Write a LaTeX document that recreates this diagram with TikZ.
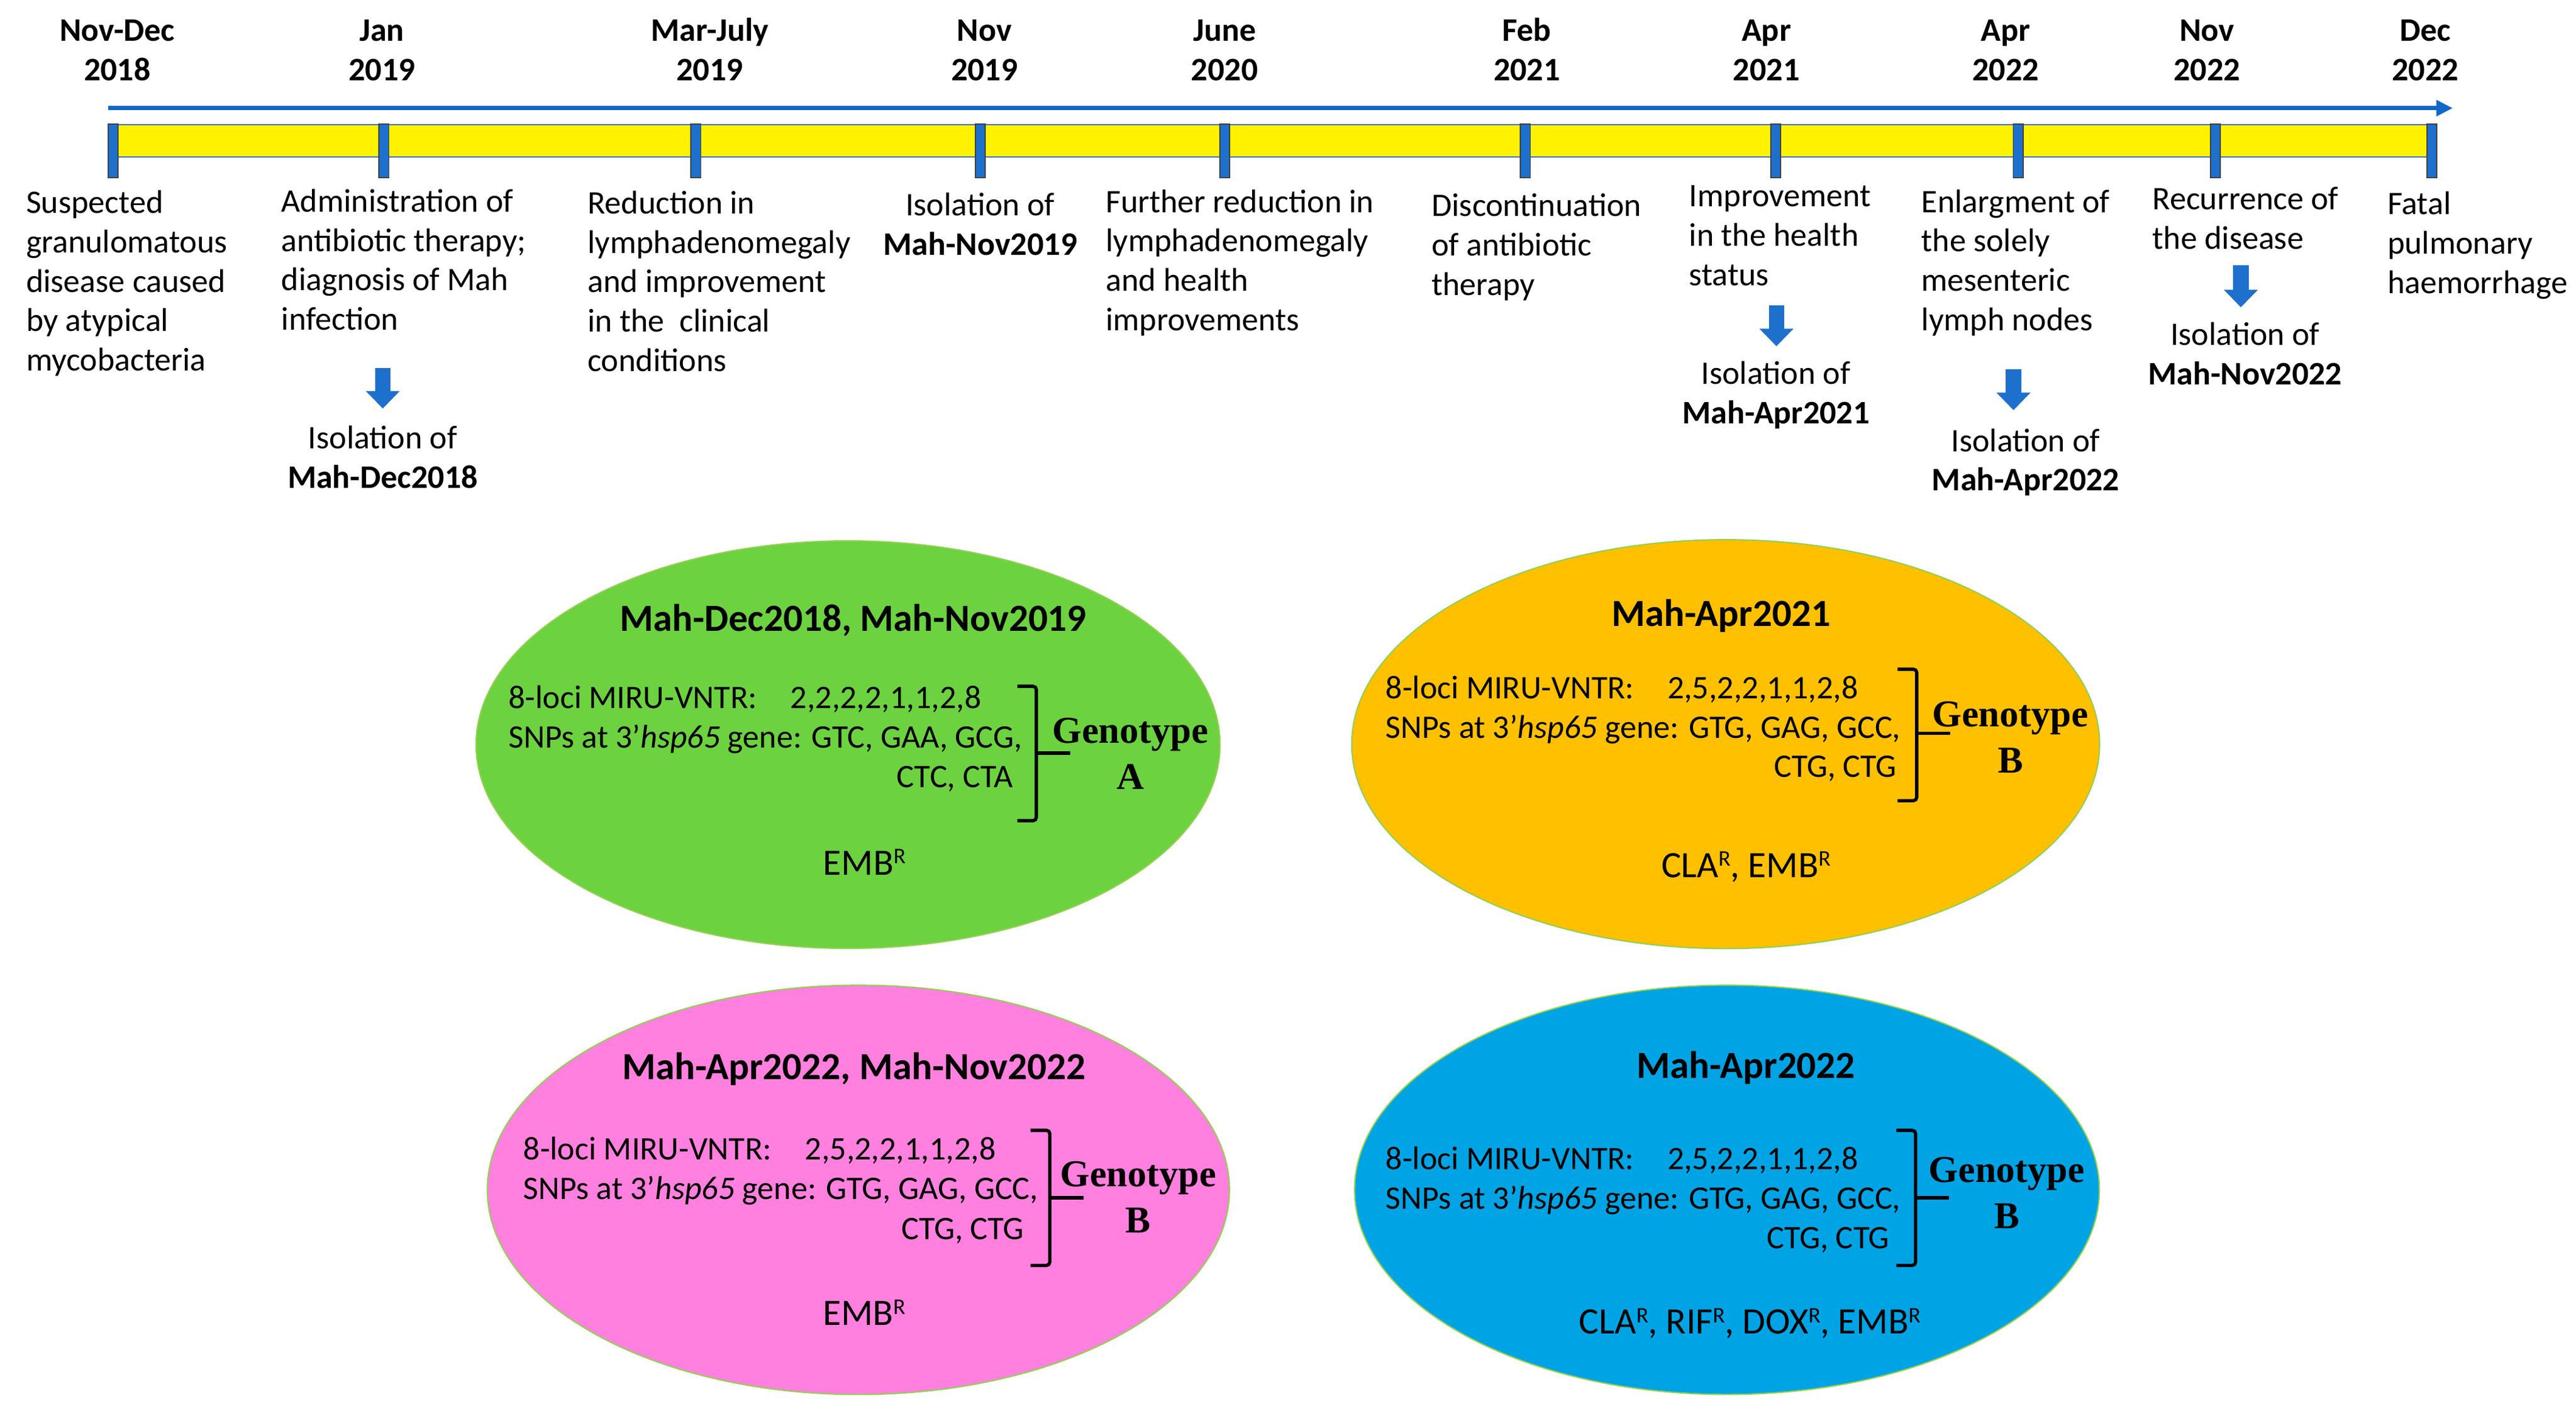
\documentclass[tikz,border=0pt]{standalone}
\usepackage{fontspec}
\setmainfont{Carlito}
\newfontfamily\serifbold{Liberation Serif}
\usetikzlibrary{arrows.meta,shapes.geometric}
\definecolor{tlblue}{RGB}{18,104,200}
\definecolor{tickblue}{RGB}{30,112,205}
\definecolor{barblue}{RGB}{68,114,196}
\definecolor{eggreen}{RGB}{108,210,64}
\definecolor{egorange}{RGB}{255,192,0}
\definecolor{egpink}{RGB}{255,128,222}
\definecolor{egblue}{RGB}{0,164,228}
\definecolor{egedge}{RGB}{146,208,80}
\newcommand{\stack}[2][l]{\begin{tabular}[t]{@{}#1@{}}#2\end{tabular}}
\newcommand{\vntr}[1]{\makebox[128.6pt][l]{8-loci MIRU-VNTR:}#1}
\newcommand{\rsup}{\raisebox{5.2pt}{\fontsize{10.2}{12}\selectfont R}}
\begin{document}
\begin{tikzpicture}[x=0.75pt,y=-0.75pt,
  date/.style={inner sep=0pt,anchor=base,font=\fontsize{15}{18}\selectfont\bfseries},
  desc/.style={inner sep=0pt,anchor=base west,font=\fontsize{15}{18}\selectfont},
  iso/.style={inner sep=0pt,anchor=base,font=\fontsize{15}{18}\selectfont},
  etitle/.style={inner sep=0pt,anchor=base,font=\fontsize{17.5}{21}\selectfont\bfseries},
  ebody/.style={inner sep=0pt,anchor=base west,font=\fontsize{15}{18}\selectfont},
  eright/.style={inner sep=0pt,anchor=base east,font=\fontsize{15}{18}\selectfont},
  eres/.style={inner sep=0pt,anchor=base,font=\fontsize{17}{20}\selectfont},
  geno/.style={inner sep=0pt,anchor=base,font=\serifbold\bfseries\fontsize{17.3}{21.1}\selectfont},
  egg/.style={ellipse,draw=egedge,line width=0.6pt,inner sep=0pt},
  tlarrow/.style={line width=1.9pt,tlblue,-{Triangle[length=7.5pt,width=7pt]}},
  blockarrow/.style={line width=7pt,tickblue,-{Triangle[length=8pt,width=15pt]}},
  tickmark/.style={fill=tickblue,draw=black!75,line width=0.5pt},
  bracket/.style={line width=1.5pt,black,rounded corners=1.5pt}
]
\useasboundingbox (0,0) rectangle (1568,862.5);

% ---------- timeline ----------
\coordinate (tls) at (65.8,65.8);
\coordinate (tle) at (1493,65.8);
\draw[tlarrow] (tls) -- (tle);
\draw[draw=barblue,line width=0.6pt,fill=yellow] (71,75.8) rectangle (1483.2,95.5);
\foreach \x in {68.8,233.7,423.6,596.8,745.4,928.5,1080.9,1228.4,1348.5,1480.2}
  \draw[tickmark] (\x-3,75.5) rectangle (\x+3,108);

% ---------- dates ----------
\node[date] (d1) at (71.4,25) {\stack[c]{Nov-Dec\\2018}};
\node[date] (d2) at (232.5,25) {\stack[c]{Jan\\2019}};
\node[date] (d3) at (432.1,25) {\stack[c]{Mar-July\\2019}};
\node[date] (d4) at (599.2,25) {\stack[c]{Nov\\2019}};
\node[date] (d5) at (745.4,25) {\stack[c]{June\\2020}};
\node[date] (d6) at (929.4,25) {\stack[c]{Feb\\2021}};
\node[date] (d7) at (1075.2,25) {\stack[c]{Apr\\2021}};
\node[date] (d8) at (1220.8,25) {\stack[c]{Apr\\2022}};
\node[date] (d9) at (1343.4,25) {\stack[c]{Nov\\2022}};
\node[date] (d10) at (1476.3,25) {\stack[c]{Dec\\2022}};

% ---------- events ----------
\node[desc] (t1) at (15.7,129.7) {\stack{Suspected\\granulomatous\\disease caused\\by atypical\\mycobacteria}};
\node[desc] (t2) at (171,128.9) {\stack{Administration of\\antibiotic therapy;\\diagnosis of Mah\\infection}};
\node[desc] (t3) at (357.5,130) {\stack{Reduction in\\lymphadenomegaly\\and improvement\\in the~ clinical\\conditions}};
\node[iso] (t4) at (596.6,131.3) {\stack[c]{Isolation of\\\textbf{Mah-Nov2019}}};
\node[desc] (t5) at (672.8,129.2) {\stack{Further reduction in\\lymphadenomegaly\\and health\\improvements}};
\node[desc] (t6) at (871.2,131.7) {\stack{Discontinuation\\of antibiotic\\therapy}};
\node[desc] (t7) at (1028,125.8) {\stack{Improvement\\in the health\\status}};
\node[desc] (t8) at (1169.3,129.2) {\stack{Enlargment of\\the solely\\mesenteric\\lymph nodes}};
\node[desc] (t9) at (1310,127.6) {\stack{Recurrence of\\the disease}};
\node[desc] (t10) at (1453,130.6) {\stack{Fatal\\pulmonary\\haemorrhage}};

\node[iso] (i1) at (233,272.9) {\stack[c]{Isolation of\\\textbf{Mah-Dec2018}}};
\node[iso] (i2) at (1081,233.7) {\stack[c]{Isolation of\\\textbf{Mah-Apr2021}}};
\node[iso] (i3) at (1233,274.7) {\stack[c]{Isolation of\\\textbf{Mah-Apr2022}}};
\node[iso] (i4) at (1366.5,210.2) {\stack[c]{Isolation of\\\textbf{Mah-Nov2022}}};

\coordinate (a1s) at (233,223.9);    \coordinate (a1e) at (233,248.6);
\coordinate (a2s) at (1081.3,185.9); \coordinate (a2e) at (1081.3,210.7);
\coordinate (a3s) at (1225.6,224.8); \coordinate (a3e) at (1225.6,249.6);
\coordinate (a4s) at (1364,161.4);   \coordinate (a4e) at (1364,187);
\draw[blockarrow] (a1s) -- (a1e);
\draw[blockarrow] (a2s) -- (a2e);
\draw[blockarrow] (a3s) -- (a3e);
\draw[blockarrow] (a4s) -- (a4e);

% ---------- ellipses ----------
\node[egg,fill=eggreen,minimum width=339.6pt,minimum height=186pt] (e1) at (516.2,453.1) {};
\node[egg,fill=egorange,minimum width=341.4pt,minimum height=186.6pt] (e2) at (1050.4,452.8) {};
\node[egg,fill=egpink,minimum width=338.8pt,minimum height=186.8pt] (e3) at (522.5,724) {};
\node[egg,fill=egblue,minimum width=340pt,minimum height=186.8pt] (e4) at (1051.2,724) {};

% ellipse 1
\node[etitle] (e1t) at (519.3,383.9) {Mah-Dec2018, Mah-Nov2019};
\node[ebody] (e1b) at (309.4,431.1) {\stack{\vntr{2,2,2,2,1,1,2,8}\\SNPs at 3’\textit{hsp65} gene: GTC, GAA, GCG,}};
\node[eright] (e1c) at (616.9,479) {CTC, CTA};
\node[eres] (e1r) at (526.2,532.5) {EMB\rsup};
\draw[bracket] (619.2,417.6) -- (630.8,417.6) -- (630.8,499.4) -- (619.2,499.4);
\draw[bracket] (630.8,458.3) -- (651.6,458.3);
\node[geno] (e1g) at (688,452.3) {\stack[c]{Genotype\\A}};

% ellipse 2
\node[etitle] (e2t) at (1047.6,381.1) {Mah-Apr2021};
\node[ebody] (e2b) at (843.3,425) {\stack{\vntr{2,5,2,2,1,1,2,8}\\SNPs at 3’\textit{hsp65} gene: GTG, GAG, GCC,}};
\node[eright] (e2c) at (1154.7,472.9) {CTG, CTG};
\node[eres] (e2r) at (1062.8,533.8) {CLA\rsup, EMB\rsup};
\draw[bracket] (1155,407.2) -- (1166.7,407.2) -- (1166.7,487.2) -- (1155,487.2);
\draw[bracket] (1166.7,446.2) -- (1187.2,446.2);
\node[geno] (e2g) at (1223.7,442) {\stack[c]{Genotype\\B}};

% ellipse 3
\node[etitle] (e3t) at (519.8,657) {Mah-Apr2022, Mah-Nov2022};
\node[ebody] (e3b) at (318.3,705.6) {\stack{\vntr{2,5,2,2,1,1,2,8}\\SNPs at 3’\textit{hsp65} gene: GTG, GAG, GCC,}};
\node[eright] (e3c) at (623.5,754.2) {CTG, CTG};
\node[eres] (e3r) at (526,806.5) {EMB\rsup};
\draw[bracket] (627.3,687.8) -- (639,687.8) -- (639,770) -- (627.3,770);
\draw[bracket] (639,728.8) -- (659.5,728.8);
\node[geno] (e3g) at (692.8,722) {\stack[c]{Genotype\\B}};

% ellipse 4
\node[etitle] (e4t) at (1062.7,656) {Mah-Apr2022};
\node[ebody] (e4b) at (843.3,711.7) {\stack{\vntr{2,5,2,2,1,1,2,8}\\SNPs at 3’\textit{hsp65} gene: GTG, GAG, GCC,}};
\node[eright] (e4c) at (1150.3,759.6) {CTG, CTG};
\node[eres] (e4r) at (1065.2,811.7) {CLA\rsup, RIF\rsup, DOX\rsup, EMB\rsup};
\draw[bracket] (1154.3,687.8) -- (1166,687.8) -- (1166,770) -- (1154.3,770);
\draw[bracket] (1166,728.8) -- (1186.5,728.8);
\node[geno] (e4g) at (1221.5,719.3) {\stack[c]{Genotype\\B}};
\end{tikzpicture}
\end{document}
